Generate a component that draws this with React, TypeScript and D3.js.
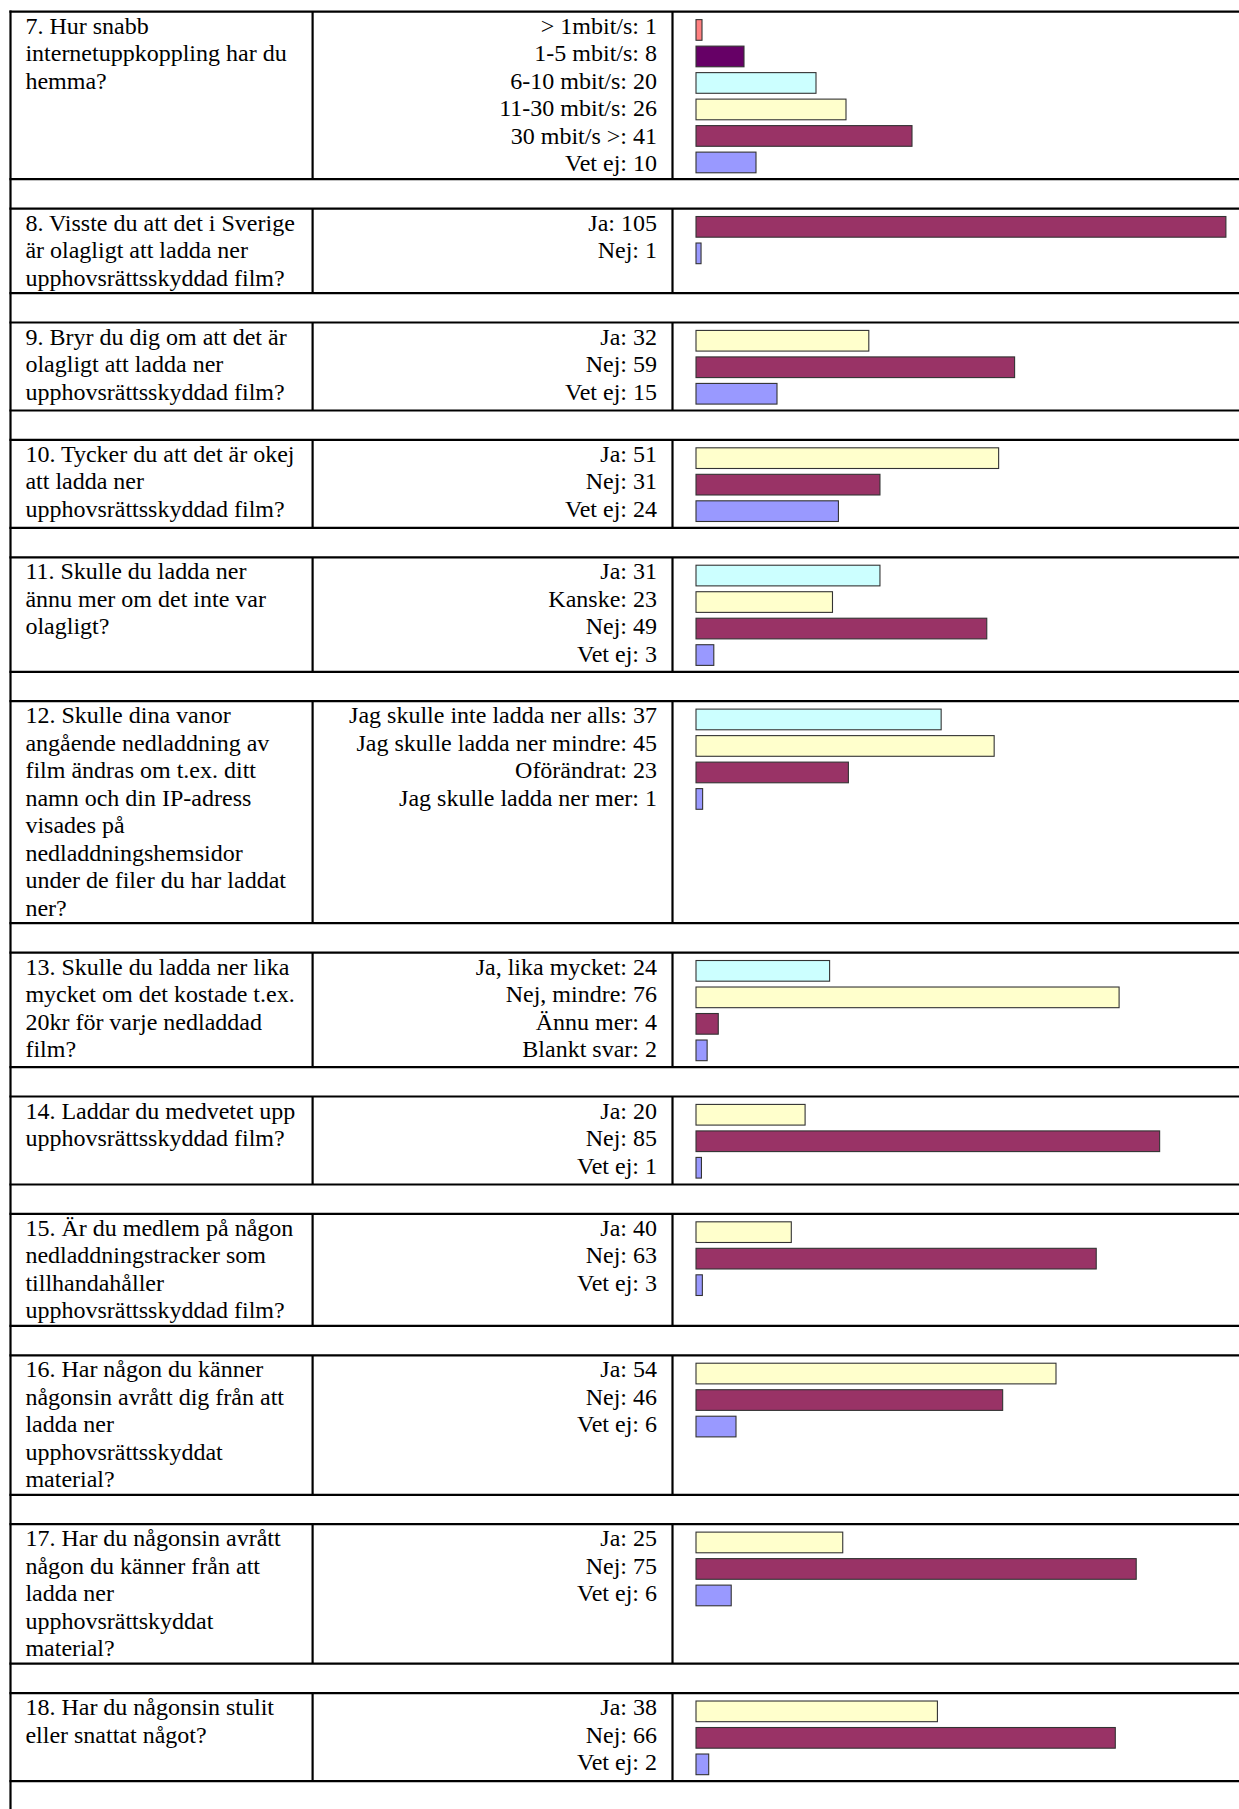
import * as d3 from "d3";
import { useEffect } from "react";

// question text, broken into lines the way the source cell wraps it
const questions: string[][] = [
  ["7. Hur snabb", "internetuppkoppling har du", "hemma?"],
  ["8. Visste du att det i Sverige", "är olagligt att ladda ner", "upphovsrättsskyddad film?"],
  ["9. Bryr du dig om att det är", "olagligt att ladda ner", "upphovsrättsskyddad film?"],
  ["10. Tycker du att det är okej", "att ladda ner", "upphovsrättsskyddad film?"],
  ["11. Skulle du ladda ner", "ännu mer om det inte var", "olagligt?"],
  [
    "12. Skulle dina vanor",
    "angående nedladdning av",
    "film ändras om t.ex. ditt",
    "namn och din IP-adress",
    "visades på",
    "nedladdningshemsidor",
    "under de filer du har laddat",
    "ner?",
  ],
  ["13. Skulle du ladda ner lika", "mycket om det kostade t.ex.", "20kr för varje nedladdad", "film?"],
  ["14. Laddar du medvetet upp", "upphovsrättsskyddad film?"],
  ["15. Är du medlem på någon", "nedladdningstracker som", "tillhandahåller", "upphovsrättsskyddad film?"],
  ["16. Har någon du känner", "någonsin avrått dig från att", "ladda ner", "upphovsrättsskyddat", "material?"],
  ["17. Har du någonsin avrått", "någon du känner från att", "ladda ner", "upphovsrättskyddat", "material?"],
  ["18. Har du någonsin stulit", "eller snattat något?"],
];

const answers: string[][] = [
  ["> 1mbit/s", "1-5 mbit/s", "6-10 mbit/s", "11-30 mbit/s", "30 mbit/s >", "Vet ej"],
  ["Ja", "Nej"],
  ["Ja", "Nej", "Vet ej"],
  ["Ja", "Nej", "Vet ej"],
  ["Ja", "Kanske", "Nej", "Vet ej"],
  ["Jag skulle inte ladda ner alls", "Jag skulle ladda ner mindre", "Oförändrat", "Jag skulle ladda ner mer"],
  ["Ja, lika mycket", "Nej, mindre", "Ännu mer", "Blankt svar"],
  ["Ja", "Nej", "Vet ej"],
  ["Ja", "Nej", "Vet ej"],
  ["Ja", "Nej", "Vet ej"],
  ["Ja", "Nej", "Vet ej"],
  ["Ja", "Nej", "Vet ej"],
];

const counts: number[][] = [
  [1, 8, 20, 26, 41, 10],
  [105, 1],
  [32, 59, 15],
  [51, 31, 24],
  [31, 23, 49, 3],
  [37, 45, 23, 1],
  [24, 76, 4, 2],
  [20, 85, 1],
  [40, 63, 3],
  [54, 46, 6],
  [25, 75, 6],
  [38, 66, 2],
];

// bar lengths as they are drawn in the source (q7 and q15 don't match their labels)
const barValues: number[][] = [
  [1, 8, 20, 25, 36, 10],
  [105, 1],
  [32, 59, 15],
  [51, 31, 24],
  [31, 23, 49, 3],
  [37, 45, 23, 1],
  [24, 76, 4, 2],
  [20, 85, 1],
  [15, 63, 1],
  [54, 46, 6],
  [25, 75, 6],
  [38, 66, 2],
];

// every small chart has its own axis maximum
const axisMax: number[] = [90, 107, 100, 91, 91, 81.5, 97, 99, 85, 81, 92, 85];

// default office chart palette, taken from the last bar backwards
const palette = ["#ff8080", "#660066", "#ccffff", "#ffffcc", "#993366", "#9999ff"];

const W = 1239;
const H = 1809;
const lineH = 27.5;
const tableTop = 11.7;
const tableLeft = 10.5;
const col1 = 312.6;
const col2 = 672.5;
const textX = 25.4;
const answerX = 657;
const barX0 = 696;
const barRange = 540;
const barStep = 26.5;
const spacerH = 29.4;
const border = 2.2;

interface Row {
  q: number;
  top: number;
  bottom: number;
}

function buildRows(): Row[] {
  const rows: Row[] = [];
  let y = tableTop;
  questions.forEach((lines, q) => {
    const textH = Math.max(lines.length, answers[q].length) * lineH + 2;
    const barsH = barValues[q].length * barStep + 8.5;
    const h = Math.max(textH, barsH);
    rows.push({ q, top: y, bottom: y + h });
    y += h + spacerH;
  });
  return rows;
}

export default function App() {
  useEffect(() => {
    document.body.style.margin = "0";
  }, []);

  const rows = buildRows();
  const hLines = rows.flatMap((r) => [r.top, r.bottom]);

  return (
    <svg
      width={W}
      height={H}
      style={{ display: "block" }}
      fontFamily="'Liberation Serif', 'Times New Roman', serif"
      fontSize={24}
    >
      <rect width={W} height={H} fill="white" />

      {rows.map((r) => {
        const n = barValues[r.q].length;
        const x = d3.scaleLinear().domain([0, axisMax[r.q]]).range([0, barRange]);
        const y = d3
          .scaleBand<number>()
          .domain(d3.range(n))
          .range([r.top + 5, r.top + 5 + n * barStep])
          .paddingInner(0.22)
          .paddingOuter(0.11);
        return (
          <g key={r.q}>
            {questions[r.q].map((line, i) => (
              <text key={i} x={textX} y={r.top + 22 + i * lineH} fill="black">
                {line}
              </text>
            ))}
            {answers[r.q].map((a, i) => (
              <text key={i} x={answerX} y={r.top + 22 + i * lineH} textAnchor="end" fill="black">
                {`${a}: ${counts[r.q][i]}`}
              </text>
            ))}
            {barValues[r.q].map((v, i) => (
              <rect
                key={i}
                x={barX0}
                y={y(i)}
                width={x(v)}
                height={y.bandwidth()}
                fill={palette[palette.length - n + i]}
                stroke="#333"
                strokeWidth={1.1}
              />
            ))}
            <line x1={col1} x2={col1} y1={r.top} y2={r.bottom} stroke="black" strokeWidth={border} />
            <line x1={col2} x2={col2} y1={r.top} y2={r.bottom} stroke="black" strokeWidth={border} />
          </g>
        );
      })}

      {hLines.map((yy, i) => (
        <line key={i} x1={tableLeft - border / 2} x2={W} y1={yy} y2={yy} stroke="black" strokeWidth={border} />
      ))}
      <line x1={tableLeft} x2={tableLeft} y1={tableTop - border / 2} y2={H} stroke="black" strokeWidth={border} />
    </svg>
  );
}
